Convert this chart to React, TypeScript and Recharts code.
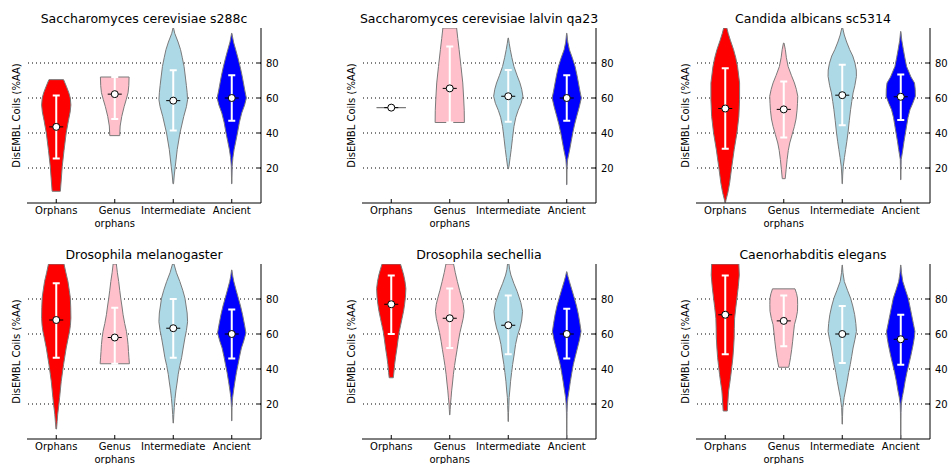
import { ScatterChart, Scatter, XAxis, YAxis, ReferenceLine } from "recharts";

const FONT = "'DejaVu Sans', Verdana, sans-serif";

const CATEGORIES = ["Orphans", "Genus orphans", "Intermediate", "Ancient"];
const COLORS = ["#ff0000", "#ffc0cb", "#add8e6", "#0000ff"];
const TITLES = [
  "Saccharomyces cerevisiae s288c",
  "Saccharomyces cerevisiae lalvin qa23",
  "Candida albicans sc5314",
  "Drosophila melanogaster",
  "Drosophila sechellia",
  "Caenorhabditis elegans",
];
const Y_LABEL = "DisEMBL Coils (%AA)";
const Y_TICKS = [20, 40, 60, 80];
const X_TICKS = [0.5, 1.5, 2.5, 3.5];

// violin outlines: [value, relative half-width], bottom to top
const s288cViolins: [number, number][][] = [
  [[6.7, 0.28], [12, 0.33], [21, 0.41], [30, 0.53], [40, 0.68], [47, 0.83], [52, 0.95], [56, 1.0], [60, 0.96], [63, 0.86], [66.5, 0.7], [70.5, 0.5]],
  [[38.5, 0.34], [44, 0.37], [49.5, 0.48], [55, 0.64], [59, 0.78], [63, 0.91], [67, 0.96], [72, 0.98]],
  [[11, 0.02], [16, 0.07], [21, 0.14], [30.5, 0.27], [40, 0.46], [49.5, 0.72], [55, 0.9], [59, 0.98], [63, 0.95], [67, 0.9], [72, 0.83], [78, 0.74], [83, 0.62], [87.6, 0.5], [92, 0.33], [97, 0.1], [100, 0.02]],
  [[11, 0.01], [21, 0.03], [26, 0.08], [30.5, 0.16], [35, 0.27], [40, 0.39], [46, 0.52], [51.4, 0.68], [56, 0.88], [60, 1.0], [64, 0.9], [68.6, 0.8], [73, 0.7], [78, 0.57], [83, 0.42], [87.6, 0.27], [92, 0.12], [97, 0.01]],
];
const s288cMeans = [43.5, 62.2, 58.5, 60];
const s288cSpreads: ([number, number] | null)[] = [[25.5, 61.5], [48, 72], [41.5, 75.8], [47, 73]];

const qa23Violins: [number, number][][] = [
  [[54.5, 1.0]],
  [[46, 1.0], [53, 0.99], [60, 0.95], [68.6, 0.89], [78, 0.77], [87.6, 0.64], [94, 0.55], [100, 0.47]],
  [[19.5, 0.01], [21, 0.05], [26, 0.13], [30.5, 0.2], [37, 0.29], [43.8, 0.39], [49, 0.52], [53, 0.68], [57, 0.88], [61, 1.0], [65, 0.92], [68.6, 0.8], [73, 0.6], [78, 0.39], [83, 0.25], [87.6, 0.14], [91, 0.07], [94.3, 0.01]],
  [[10.5, 0.01], [20, 0.02], [24.8, 0.06], [30.5, 0.2], [35, 0.3], [40, 0.41], [45, 0.54], [49.5, 0.68], [55, 0.86], [60, 1.0], [64, 0.9], [68.6, 0.8], [73, 0.7], [78, 0.57], [83, 0.38], [87.6, 0.18], [92, 0.07], [97, 0.01]],
];
const qa23Means = [54.5, 65.5, 61, 60];
const qa23Spreads: ([number, number] | null)[] = [null, [46, 89.5], [46.5, 76], [47, 73]];

const sc5314Violins: [number, number][][] = [
  [[0.5, 0.02], [2, 0.06], [6, 0.18], [11.4, 0.3], [21, 0.45], [30.5, 0.61], [40, 0.8], [49.5, 0.93], [59, 0.98], [68.6, 0.98], [78, 0.84], [83, 0.72], [87.6, 0.57], [93, 0.35], [97, 0.2], [100, 0.11]],
  [[13.9, 0.1], [19, 0.16], [24.8, 0.23], [30, 0.31], [34.3, 0.41], [39, 0.57], [43.8, 0.73], [48, 0.84], [53, 0.91], [57, 0.94], [61, 0.96], [65, 0.86], [68.6, 0.73], [73, 0.52], [78, 0.3], [83, 0.18], [87.6, 0.11], [91.4, 0.02]],
  [[11, 0.01], [16, 0.03], [21, 0.07], [26, 0.15], [30.5, 0.23], [35, 0.31], [40, 0.39], [47, 0.48], [53.3, 0.57], [58, 0.65], [62.9, 0.74], [67, 0.86], [72.4, 0.97], [76, 0.96], [80, 0.87], [84, 0.72], [87.6, 0.51], [92, 0.3], [96, 0.14], [100, 0.03]],
  [[13.3, 0.01], [20, 0.02], [24.8, 0.03], [30.5, 0.14], [35, 0.22], [40, 0.32], [45, 0.42], [49, 0.5], [53.3, 0.63], [57, 0.82], [61, 1.0], [65, 0.99], [68.6, 0.94], [72, 0.7], [78, 0.4], [83, 0.28], [87.6, 0.18], [93, 0.07], [98, 0.01]],
];
const sc5314Means = [54, 53.5, 61.6, 60.7];
const sc5314Spreads: ([number, number] | null)[] = [[31, 77], [37.5, 69.5], [44.5, 79], [47.5, 73.5]];

const melanogasterViolins: [number, number][][] = [
  [[5.7, 0.02], [10, 0.06], [14.2, 0.1], [19, 0.17], [23.7, 0.23], [33, 0.34], [42.6, 0.5], [52, 0.68], [57, 0.8], [61.5, 0.91], [65, 0.97], [69, 1.0], [75, 0.99], [80.9, 0.96], [85, 0.89], [90, 0.8], [95, 0.66], [100, 0.53]],
  [[43, 1.0], [46.4, 0.97], [50, 0.94], [54, 0.91], [58, 0.86], [61.5, 0.8], [66, 0.68], [71, 0.57], [76, 0.49], [80.5, 0.41], [85, 0.34], [90, 0.27], [95, 0.18], [100, 0.11]],
  [[9.1, 0.01], [14, 0.04], [18, 0.07], [23, 0.12], [27.5, 0.18], [32, 0.26], [37, 0.34], [42, 0.45], [46.4, 0.57], [52, 0.68], [57.8, 0.8], [62, 0.9], [67, 0.98], [72, 0.95], [76, 0.88], [80.5, 0.8], [85, 0.65], [90, 0.45], [95, 0.22], [100, 0.05]],
  [[10.4, 0.01], [18, 0.02], [23.7, 0.06], [28, 0.13], [33, 0.22], [38, 0.32], [42.6, 0.43], [47, 0.53], [52, 0.66], [56, 0.82], [60.6, 0.97], [65, 0.88], [71, 0.74], [76, 0.6], [80.5, 0.45], [85, 0.3], [90, 0.14], [93, 0.07], [96.6, 0.01]],
];
const melanogasterMeans = [68, 58, 63.3, 60];
const melanogasterSpreads: ([number, number] | null)[] = [[46.5, 89], [43, 75], [46.5, 80], [46, 74]];

const sechelliaViolins: [number, number][][] = [
  [[35, 0.14], [38, 0.18], [42.6, 0.23], [47, 0.3], [52, 0.39], [57, 0.47], [61.5, 0.55], [65, 0.64], [69, 0.74], [73, 0.84], [76.7, 0.91], [81, 0.97], [86, 1.0], [90, 0.94], [93.7, 0.85], [97, 0.74], [100, 0.63]],
  [[13.8, 0.01], [17, 0.03], [19.9, 0.05], [23.5, 0.09], [27.5, 0.13], [32, 0.19], [37, 0.25], [42, 0.33], [46.4, 0.41], [51, 0.5], [55.9, 0.59], [61, 0.7], [65.3, 0.82], [69, 0.92], [73, 0.98], [77, 0.92], [80.5, 0.82], [85, 0.67], [90, 0.52], [95, 0.38], [100, 0.26]],
  [[10, 0.01], [15, 0.02], [19, 0.04], [23.7, 0.06], [28, 0.11], [33, 0.16], [38, 0.23], [42.6, 0.3], [48, 0.4], [54, 0.5], [59, 0.63], [63.4, 0.8], [68, 0.92], [73, 0.98], [78, 0.86], [84.3, 0.61], [89, 0.38], [93.7, 0.18], [97, 0.09], [100, 0.05]],
  [[0.5, 0.01], [15, 0.02], [20, 0.04], [23.7, 0.08], [28, 0.16], [33, 0.25], [38, 0.35], [42.6, 0.45], [47, 0.58], [52, 0.73], [57, 0.88], [61.5, 0.98], [66, 0.9], [71, 0.8], [76, 0.67], [80.5, 0.52], [85, 0.36], [90, 0.18], [93, 0.08], [95.6, 0.01]],
];
const sechelliaMeans = [77, 69, 65, 60];
const sechelliaSpreads: ([number, number] | null)[] = [[60, 93.5], [52, 86], [48.5, 82], [46, 74.5]];

const elegansViolins: [number, number][][] = [
  [[16, 0.14], [20, 0.17], [24, 0.2], [27.5, 0.23], [32, 0.31], [37, 0.39], [42, 0.46], [46.4, 0.52], [52, 0.57], [57.8, 0.61], [63, 0.62], [69, 0.64], [75, 0.72], [80.5, 0.8], [87, 0.89], [93.7, 0.96], [100, 0.93]],
  [[41, 0.34], [43.5, 0.4], [46.4, 0.46], [51, 0.54], [55.9, 0.61], [60, 0.66], [65.3, 0.73], [69, 0.85], [73, 0.94], [77, 0.95], [80.5, 0.94], [83, 0.88], [85.8, 0.77]],
  [[8.5, 0.01], [13, 0.02], [18, 0.04], [21, 0.09], [23.7, 0.13], [28, 0.23], [33, 0.34], [38, 0.44], [42.6, 0.55], [47, 0.64], [52, 0.74], [57, 0.87], [61.5, 0.97], [66, 0.93], [71, 0.85], [76, 0.72], [80.5, 0.57], [85, 0.36], [90, 0.14], [95, 0.05], [99.4, 0.01]],
  [[0.5, 0.01], [15, 0.02], [20, 0.04], [23.7, 0.1], [28, 0.2], [33, 0.3], [38, 0.42], [42.6, 0.55], [48, 0.7], [54, 0.85], [58, 0.93], [61.5, 0.97], [66, 0.86], [71, 0.74], [76, 0.62], [80.5, 0.51], [85, 0.33], [90, 0.14], [95, 0.05], [99.4, 0.01]],
];
const elegansMeans = [71, 67.5, 60, 57];
const elegansSpreads: ([number, number] | null)[] = [[48.5, 93.5], [53, 82], [43.5, 76], [42.5, 71]];

const PANELS = [
  { title: TITLES[0], violins: s288cViolins, means: s288cMeans, spreads: s288cSpreads },
  { title: TITLES[1], violins: qa23Violins, means: qa23Means, spreads: qa23Spreads },
  { title: TITLES[2], violins: sc5314Violins, means: sc5314Means, spreads: sc5314Spreads },
  { title: TITLES[3], violins: melanogasterViolins, means: melanogasterMeans, spreads: melanogasterSpreads },
  { title: TITLES[4], violins: sechelliaViolins, means: sechelliaMeans, spreads: sechelliaSpreads },
  { title: TITLES[5], violins: elegansViolins, means: elegansMeans, spreads: elegansSpreads },
];

// plot box placement
const BOX_LEFT = [27, 362, 696];
const BOX_TOP = [28, 264];
const BOX_W = 234;
const BOX_H = 175;

const HALF = 0.25; // widest violin half-width, in category units
const MEAN_BAR = 0.12; // half length of the black bar through the mean
const CAP = 0.06; // half width of the whisker caps

function outline(profile: [number, number][], center: number) {
  const right = profile.map(([v, w]) => ({ x: center + w * HALF, y: v }));
  const left = profile
    .slice()
    .reverse()
    .map(([v, w]) => ({ x: center - w * HALF, y: v }));
  return [...right, ...left, right[0]];
}

// I-beam: low cap, up the stem, high cap
function whisker(center: number, [lo, hi]: [number, number]) {
  return [
    { x: center - CAP, y: lo },
    { x: center + CAP, y: lo },
    { x: center, y: lo },
    { x: center, y: hi },
    { x: center - CAP, y: hi },
    { x: center + CAP, y: hi },
  ];
}

const noDot = () => <g />;

const meanDot = (props: any) => (
  <circle cx={props.cx} cy={props.cy} r={3.5} fill="#fff" stroke="#000" strokeWidth={1} />
);

function CategoryTick(props: any) {
  const { x, y, payload } = props;
  const label = CATEGORIES[Math.floor(payload.value)] ?? "";
  const lines = label.split(" ");
  return (
    <text x={x} y={y} textAnchor="middle" fill="#000" fontSize={10} fontFamily={FONT}>
      {lines.map((s, i) => (
        <tspan key={i} x={x} dy={i === 0 ? 7.3 : 12.3}>
          {s}
        </tspan>
      ))}
    </text>
  );
}

function Panel({ panel, left, top }: { panel: (typeof PANELS)[number]; left: number; top: number }) {
  return (
    <div style={{ position: "absolute", left: left - 27, top: top - 28 }}>
      <ScatterChart width={316} height={232} margin={{ top: 28, right: 0, bottom: 0, left: 27 }}>
        <XAxis
          xAxisId={0}
          dataKey="x"
          type="number"
          domain={[0, 4]}
          ticks={X_TICKS}
          interval={0}
          height={29}
          tickSize={-4}
          tickMargin={8}
          stroke="#000"
          tick={<CategoryTick />}
          allowDataOverflow
        />
        <XAxis
          xAxisId="top"
          orientation="top"
          type="number"
          domain={[0, 4]}
          ticks={X_TICKS}
          interval={0}
          height={0}
          tickSize={-4}
          tick={false}
          stroke="#000"
        />
        <YAxis
          yAxisId={0}
          orientation="right"
          dataKey="y"
          type="number"
          domain={[0, 100]}
          ticks={Y_TICKS}
          interval={0}
          width={55}
          tickSize={-4}
          tickMargin={9}
          stroke="#000"
          tick={{ fill: "#000", fontSize: 10, fontFamily: FONT }}
          allowDataOverflow
        />
        <YAxis
          yAxisId="left"
          orientation="left"
          type="number"
          domain={[0, 100]}
          width={0}
          tick={false}
          tickLine={false}
          stroke="#000"
        />
        {panel.violins.map((profile, i) => (
          <Scatter
            key={`v${i}`}
            data={outline(profile, X_TICKS[i])}
            fill={COLORS[i]}
            shape={noDot}
            line={{ fill: COLORS[i], stroke: "#7a7a7a", strokeWidth: 1 }}
            isAnimationActive={false}
          />
        ))}
        {panel.spreads.map((s, i) =>
          s ? (
            <Scatter
              key={`w${i}`}
              data={whisker(X_TICKS[i], s)}
              fill="#fff"
              shape={noDot}
              line={{ stroke: "#fff", strokeWidth: 2, fill: "none" }}
              isAnimationActive={false}
            />
          ) : null
        )}
        {panel.means.map((m, i) => (
          <Scatter
            key={`b${i}`}
            data={[
              { x: X_TICKS[i] - MEAN_BAR, y: m },
              { x: X_TICKS[i] + MEAN_BAR, y: m },
            ]}
            fill="#000"
            shape={noDot}
            line={{ stroke: "#000", strokeWidth: 1, fill: "none" }}
            isAnimationActive={false}
          />
        ))}
        {panel.means.map((m, i) => (
          <Scatter
            key={`m${i}`}
            data={[{ x: X_TICKS[i], y: m }]}
            fill="#fff"
            shape={meanDot}
            isAnimationActive={false}
          />
        ))}
        {Y_TICKS.map((v) => (
          <ReferenceLine key={v} y={v} yAxisId={0} xAxisId={0} stroke="#000" strokeDasharray="1 3" />
        ))}
      </ScatterChart>
    </div>
  );
}

export default function App() {
  return (
    <div
      style={{
        position: "absolute",
        left: 0,
        top: 0,
        width: 949,
        height: 464,
        overflow: "hidden",
        background: "#fff",
        fontFamily: FONT,
      }}
    >
      {PANELS.map((p, i) => (
        <Panel key={i} panel={p} left={BOX_LEFT[i % 3]} top={BOX_TOP[Math.floor(i / 3)]} />
      ))}
      <svg width={949} height={464} style={{ position: "absolute", left: 0, top: 0, pointerEvents: "none" }}>
        {PANELS.map((p, i) => {
          const bx = BOX_LEFT[i % 3];
          const by = BOX_TOP[Math.floor(i / 3)];
          return (
            <g key={i} fontFamily={FONT} fill="#000">
              <text x={bx + BOX_W / 2} y={by - 5} textAnchor="middle" fontSize={12.5}>
                {p.title}
              </text>
              <text
                transform={`translate(${bx - 10.5},${by + BOX_H / 2}) rotate(-90)`}
                textAnchor="middle"
                dominantBaseline="central"
                fontSize={10}
              >
                {Y_LABEL}
              </text>
            </g>
          );
        })}
      </svg>
    </div>
  );
}
